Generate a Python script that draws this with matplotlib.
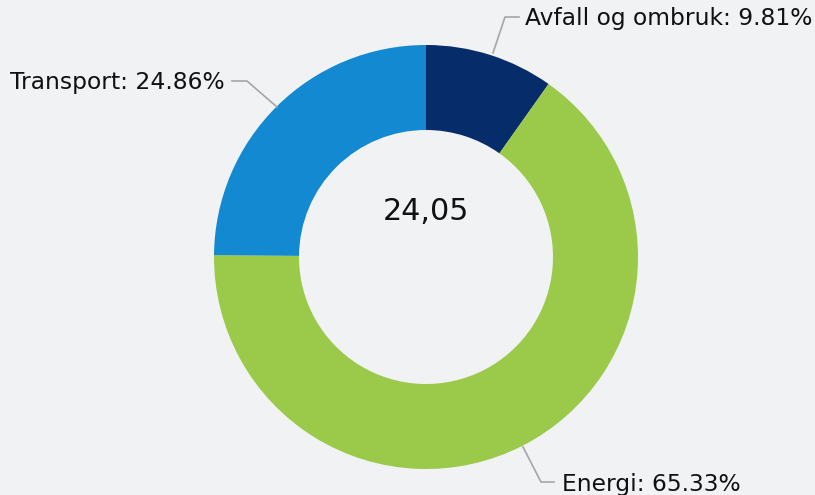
import matplotlib.pyplot as plt
import numpy as np

labels = ['Avfall og ombruk', 'Energi', 'Transport']
shares = [9.81, 65.33, 24.86]
colors = ['#062d6a', '#9bc94a', '#1289d0']
center_text = '24,05'

bg = '#f1f2f4'
W, H = 815, 495
cx, cy = 426, 257
r_out, r_in = 212, 127

fig = plt.figure(figsize=(W / 100, H / 100), dpi=100, facecolor=bg)
ax = fig.add_axes([0, 0, 1, 1])
ax.set_facecolor(bg)

# y axis runs downward (pixel frame), so start at -90 and go counterclockwise
# in data space -> top start, clockwise on screen
wedges, _ = ax.pie(shares, colors=colors, startangle=-90, counterclock=True,
                   radius=r_out, center=(cx, cy),
                   wedgeprops=dict(width=r_out - r_in, linewidth=0))
ax.set_xlim(0, W)
ax.set_ylim(H, 0)
ax.set_aspect('equal')
ax.axis('off')

ax.text(cx, 212, center_text, ha='center', va='center', fontsize=21.7, color='#111111')

# leader lines (pixel positions of label anchors)
line_kw = dict(color='#a6a6a6', lw=1.2)
fs = 16.8
ax.plot([493, 505, 519], [53, 17, 17], **line_kw)
ax.text(525, 19, f'{labels[0]}: {shares[0]:.2f}%', ha='left', va='center', fontsize=fs, color='#111111')

ax.plot([523, 541, 554], [447, 482, 482], **line_kw)
ax.text(562, 484, f'{labels[1]}: {shares[1]:.2f}%', ha='left', va='center', fontsize=fs, color='#111111')

ax.plot([277, 247, 232], [107, 81, 81], **line_kw)
ax.text(225, 83, f'{labels[2]}: {shares[2]:.2f}%', ha='right', va='center', fontsize=fs, color='#111111')

fig.savefig('out.png', dpi=100, facecolor=bg)
